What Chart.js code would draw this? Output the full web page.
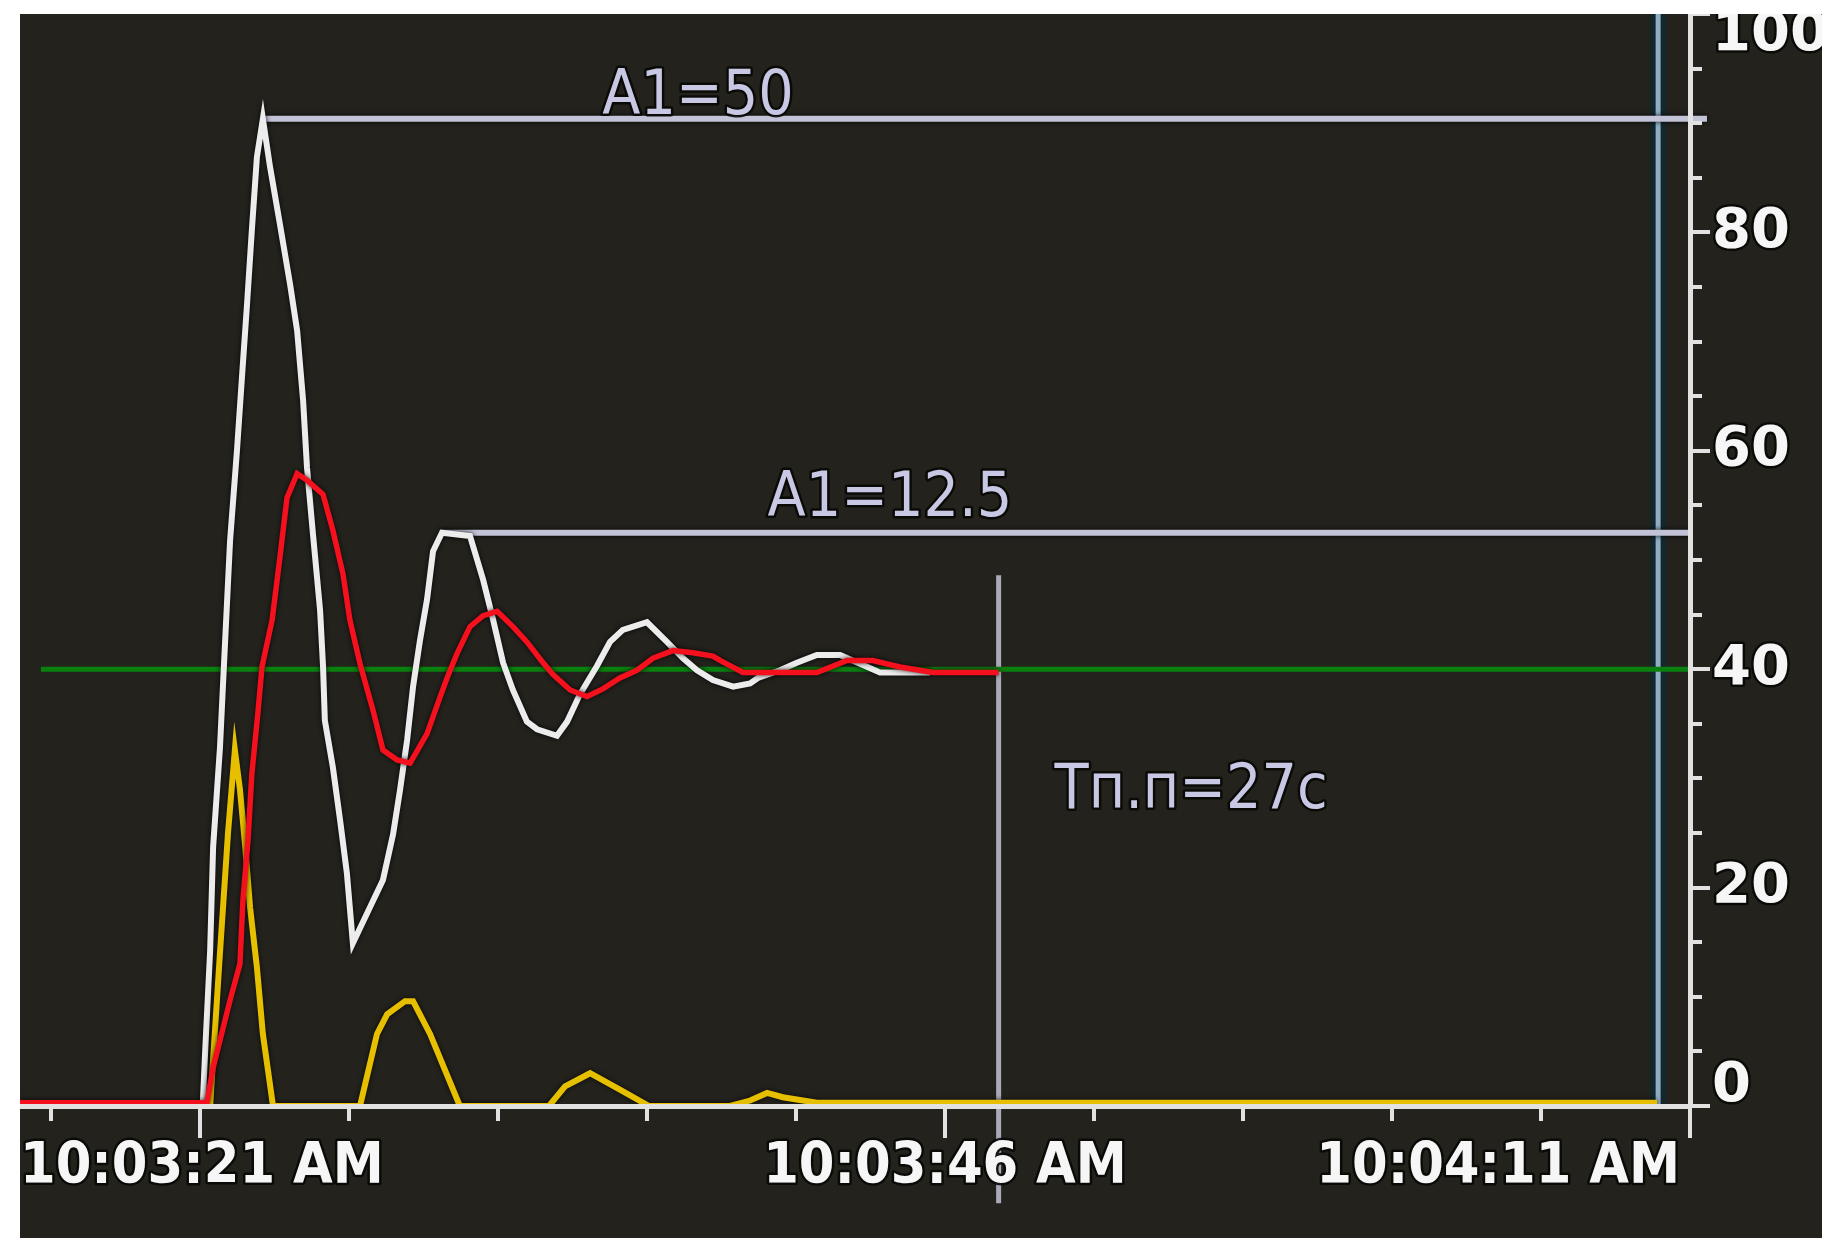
<!DOCTYPE html>
<html>
<head>
<meta charset="utf-8">
<script src="https://cdn.jsdelivr.net/npm/chart.js@4.4.1/dist/chart.umd.min.js"></script>
<style>
  html, body { margin: 0; background: #ffffff; }
  #panel { position: absolute; left: 20px; top: 14px; width: 1802px; height: 1224px; background: #23221d; }
</style>
</head>
<body>
<div id="panel"><canvas id="trend" width="1802" height="1224"></canvas></div>
<script>
/* Тренд переходного процесса: ПВ (белый), фильтр (красный), выход (жёлтый), задание 40 */

// время, с от 10:03:21
const X_MIN = -6.04;
const X_MAX = 50;
const X_TICKS = [-5, 0, 5, 10, 15, 20, 25, 30, 35, 40, 45, 50];
const X_LABEL_TICKS = [0, 25, 50];
const X_LABELS = ["10:03:21 AM", "10:03:46 AM", "10:04:11 AM"];
const Y_TICKS = [0, 5, 10, 15, 20, 25, 30, 35, 40, 45, 50, 55, 60, 65, 70, 75, 80, 85, 90, 95, 100];
const Y_LABEL_TICKS = [0, 20, 40, 60, 80, 100];

const WHITE_T = [0.1, 0.17, 0.34, 0.44, 0.67, 0.84, 1.01, 1.24, 1.41, 1.58, 1.74, 1.91, 2.11, 2.35, 2.68, 3.02, 3.26, 3.46, 3.59, 3.79, 4.03, 4.13, 4.19, 4.46, 4.7, 4.93, 5.13, 5.6, 6.14, 6.48, 6.71, 6.95, 7.15, 7.38, 7.62, 7.82, 8.12, 9.06, 9.5, 9.83, 10.17, 10.5, 10.97, 11.31, 11.98, 12.32, 12.75, 13.32, 13.76, 14.19, 15.0, 15.67, 16.21, 16.68, 17.21, 17.89, 18.46, 18.72, 19.46, 20.03, 20.7, 21.48, 22.15, 22.82, 24.5];
const WHITE_V = [0.5, 4.8, 14.2, 23.7, 32.8, 42.4, 51.8, 60.0, 66.8, 73.5, 80.2, 86.9, 90.4, 86.0, 80.8, 75.3, 71.0, 64.6, 58.5, 52.4, 45.4, 40.2, 35.3, 31.0, 26.2, 21.3, 14.9, 17.6, 20.7, 24.9, 28.9, 33.5, 38.4, 42.6, 46.4, 50.8, 52.5, 52.2, 48.2, 44.6, 40.6, 38.1, 35.2, 34.5, 33.9, 35.2, 37.7, 40.3, 42.5, 43.6, 44.3, 42.5, 41.0, 39.9, 39.0, 38.4, 38.7, 39.2, 39.9, 40.6, 41.3, 41.3, 40.5, 39.7, 39.7];

const RED_T = [-6.04, 0.23, 0.44, 1.01, 1.34, 1.44, 1.61, 1.74, 1.95, 2.08, 2.42, 2.68, 2.92, 3.26, 3.59, 4.13, 4.46, 4.8, 5.03, 5.37, 5.81, 6.14, 6.61, 7.05, 7.62, 8.05, 8.29, 8.62, 9.06, 9.5, 9.97, 10.5, 10.97, 11.51, 11.85, 12.42, 12.99, 13.52, 14.09, 14.66, 15.2, 15.87, 16.54, 17.21, 17.45, 18.22, 20.7, 21.71, 22.58, 23.49, 24.6, 26.8];
const RED_V = [0.3, 0.3, 3.5, 9.7, 13.0, 18.8, 24.3, 30.4, 36.2, 40.2, 44.5, 50.2, 55.7, 57.9, 57.3, 56.0, 52.7, 48.7, 44.5, 40.5, 36.2, 32.6, 31.7, 31.4, 34.1, 37.4, 39.2, 41.4, 43.9, 44.9, 45.3, 43.9, 42.5, 40.6, 39.5, 38.1, 37.5, 38.2, 39.2, 39.9, 41.0, 41.7, 41.5, 41.2, 40.8, 39.7, 39.7, 40.8, 40.8, 40.2, 39.7, 39.7];

const YELLOW_T = [0.34, 0.67, 0.94, 1.17, 1.34, 1.51, 1.68, 1.91, 2.11, 2.45, 5.37, 5.94, 6.28, 6.88, 7.15, 7.72, 8.72, 11.71, 12.25, 13.09, 14.09, 15.07, 17.79, 18.46, 19.03, 19.56, 20.7, 48.9];
const YELLOW_V = [0, 14.0, 25.0, 32.6, 29.0, 24.0, 18.2, 12.7, 6.6, 0, 0, 6.6, 8.4, 9.6, 9.6, 6.6, 0, 0, 1.8, 3.0, 1.5, 0, 0, 0.5, 1.2, 0.8, 0.3, 0.3];

const SETPOINT = 40;
const SETPOINT_T = [-5.34, 50];
const A1_T = [[2.11, 50.57], [8.12, 50]];
const A1_V = [90.4, 52.5];
const SETTLE_T = 26.8;
const SETTLE_V = [48.6, -8.9];
const CURSOR_T = 48.93;
const CURSOR_V = [0, 100];

const ANNOT_TEXT = ["A1=50", "A1=12.5", "Тп.п=27с"];
const ANNOT_T = [16.71, 23.15, 33.26];
const ANNOT_V = [90.8, 54.0, 27.3];

const AXIS_COLOR = "#e2e2e2";
const LABEL_FONT = '"DejaVu Sans Condensed", "DejaVu Sans", sans-serif';

const pts = (ts, vs) => ts.map((t, i) => ({ x: t, y: vs[i] }));
const seg = (t0, t1, v) => [{ x: t0, y: v }, { x: t1, y: v }];
const vert = (t, v0, v1) => [{ x: t, y: v0 }, { x: t, y: v1 }];

function line(data, color, width, extra) {
  return Object.assign({ data, borderColor: color, borderWidth: width, pointRadius: 0, tension: 0, fill: false }, extra || {});
}

// тёмная обводка линий как на экране SCADA
const haloPlugin = {
  id: "halo",
  beforeDatasetDraw(chart, args) {
    const ds = chart.data.datasets[args.index];
    chart.ctx.save();
    if (ds.halo) {
      chart.ctx.shadowColor = ds.halo;
      chart.ctx.shadowBlur = 5;
    }
  },
  afterDatasetDraw(chart) {
    chart.ctx.restore();
  },
};

function outlinedText(ctx, s, x, y, fill) {
  ctx.lineJoin = "round";
  ctx.lineWidth = 5;
  ctx.strokeStyle = "rgba(8,8,6,0.9)";
  ctx.strokeText(s, x, y);
  ctx.fillStyle = fill;
  ctx.fillText(s, x, y);
}

const annotPlugin = {
  id: "annot",
  afterDatasetsDraw(chart) {
    const { ctx, scales } = chart;
    ctx.save();
    ctx.font = `62px ${LABEL_FONT}`;
    ctx.textAlign = "center";
    ctx.textBaseline = "alphabetic";
    ANNOT_TEXT.forEach((s, i) => {
      outlinedText(ctx, s, scales.x.getPixelForValue(ANNOT_T[i]), scales.y.getPixelForValue(ANNOT_V[i]), "#c8c8e4");
    });
    ctx.restore();
  },
};

// засечки и подписи осей (крайние подписи прижаты внутрь, как на экране)
const axisPlugin = {
  id: "axisMarks",
  afterDraw(chart) {
    const { ctx, chartArea: a, scales } = chart;
    ctx.save();
    ctx.strokeStyle = AXIS_COLOR;
    ctx.lineWidth = 4;
    X_TICKS.forEach((v) => {
      const px = Math.round(scales.x.getPixelForValue(v));
      const len = X_LABEL_TICKS.includes(v) ? 32 : 15;
      ctx.beginPath();
      ctx.moveTo(px, a.bottom);
      ctx.lineTo(px, a.bottom + len);
      ctx.stroke();
    });
    Y_TICKS.forEach((v) => {
      const py = Math.round(scales.y.getPixelForValue(v));
      const len = Y_LABEL_TICKS.includes(v) ? 20 : 12;
      ctx.beginPath();
      ctx.moveTo(a.right, py);
      ctx.lineTo(a.right + len, py);
      ctx.stroke();
    });

    ctx.font = `bold 57px ${LABEL_FONT}`;
    ctx.textBaseline = "middle";
    ctx.textAlign = "left";
    X_LABEL_TICKS.forEach((v, i) => {
      const w = ctx.measureText(X_LABELS[i]).width;
      let x = scales.x.getPixelForValue(v) - w / 2;
      x = Math.max(a.left, Math.min(x, a.right - 10 - w));
      outlinedText(ctx, X_LABELS[i], x, a.bottom + 62, "#f6f6f6");
    });
    ctx.font = 'bold 56px "DejaVu Sans", sans-serif';
    Y_LABEL_TICKS.forEach((v) => {
      let y = scales.y.getPixelForValue(v);
      y = Math.max(a.top + 21, Math.min(y, a.bottom - 20));
      outlinedText(ctx, String(v), a.right + 22, y, "#f6f6f6");
    });
    ctx.restore();
  },
};

new Chart(document.getElementById("trend"), {
  type: "line",
  data: {
    datasets: [
      line(pts(RED_T, RED_V), "#f5101e", 5.5, { halo: "rgba(0,0,0,0.8)" }),
      line(pts(YELLOW_T, YELLOW_V), "#e6c000", 6, { halo: "rgba(0,0,0,0.8)" }),
      line(pts(WHITE_T, WHITE_V), "#ececec", 6, { halo: "rgba(0,0,0,0.9)" }),
      line(seg(SETPOINT_T[0], SETPOINT_T[1], SETPOINT), "#0a800f", 5),
      line(seg(A1_T[0][0], A1_T[0][1], A1_V[0]), "#c3c3d8", 6, { halo: "rgba(0,0,0,0.9)", clip: false }),
      line(seg(A1_T[1][0], A1_T[1][1], A1_V[1]), "#c3c3d8", 6, { halo: "rgba(0,0,0,0.9)", clip: false }),
      line(vert(SETTLE_T, SETTLE_V[0], SETTLE_V[1]), "#a9a9ba", 5, { clip: false }),
      line(vert(CURSOR_T, CURSOR_V[0], CURSOR_V[1]), "#8eaec6", 5),
      line(vert(CURSOR_T, CURSOR_V[0], CURSOR_V[1]), "#13272d", 16),
    ],
  },
  options: {
    responsive: false,
    animation: false,
    devicePixelRatio: 1,
    layout: { padding: 0 },
    events: [],
    plugins: { legend: { display: false }, tooltip: { enabled: false } },
    scales: {
      x: {
        type: "linear",
        position: "bottom",
        min: X_MIN,
        max: X_MAX,
        grid: { display: false },
        border: { display: true, color: AXIS_COLOR, width: 5, z: 1 },
        ticks: { display: false },
        afterBuildTicks: (s) => { s.ticks = X_TICKS.map((v) => ({ value: v })); },
        afterFit: (s) => { s.height = 132; },
      },
      y: {
        type: "linear",
        position: "right",
        min: 0,
        max: 100,
        grid: { display: false },
        border: { display: true, color: AXIS_COLOR, width: 5, z: 1 },
        ticks: { display: false },
        afterBuildTicks: (s) => { s.ticks = Y_TICKS.map((v) => ({ value: v })); },
        afterFit: (s) => { s.width = 132; },
      },
    },
  },
  plugins: [haloPlugin, annotPlugin, axisPlugin],
});
</script>
</body>
</html>
